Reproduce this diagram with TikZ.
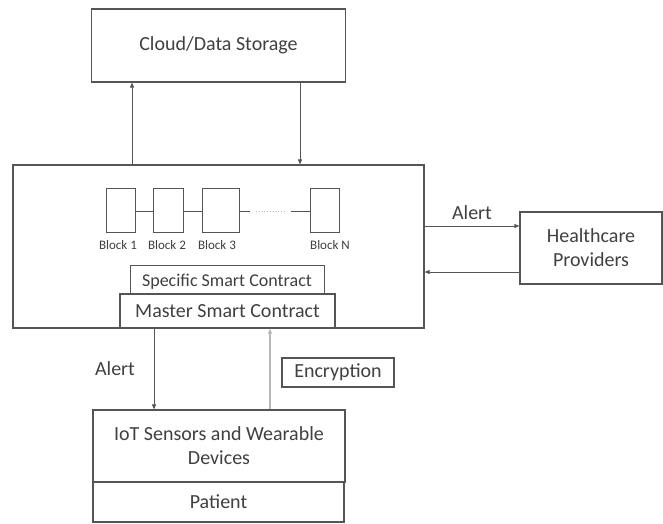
\documentclass[tikz,border=0pt]{standalone}
\usepackage{fontspec}
\setmainfont{Carlito}
\usetikzlibrary{arrows.meta}
\definecolor{edge}{HTML}{555555}
\definecolor{ink}{HTML}{404040}
\definecolor{pale}{HTML}{B8B8B8}

\begin{document}
\begin{tikzpicture}[x=1pt,y=-1pt,
  box/.style={draw=edge, line width=1.2pt, fill=white, inner sep=0pt,
    text=ink, font=\fontsize{20}{24}\selectfont, align=center},
  blk/.style={draw=edge, line width=1pt, fill=white, inner sep=0pt},
  blab/.style={text=ink, font=\fontsize{13}{15}\selectfont, inner sep=0pt},
  lab/.style={text=ink, font=\fontsize{20}{24}\selectfont, inner sep=0pt},
  arr/.style={draw=edge, line width=0.8pt, -{Triangle[length=5pt,width=4pt]}},
  lnk/.style={draw=edge, line width=0.8pt}]
\useasboundingbox (0,0) rectangle (663,523);

% storage on top
\node[box, minimum width=254pt, minimum height=73pt] (cloud) at (218.5,45.5) {Cloud/Data Storage};

% blockchain frame
\node[box, minimum width=411pt, minimum height=163pt] (main) at (218.5,246.5) {};

% chain of blocks
\node[blk, minimum width=29pt, minimum height=44pt] (b1) at (120.5,210) {};
\node[blk, minimum width=30pt, minimum height=44pt] (b2) at (168,210) {};
\node[blk, minimum width=37pt, minimum height=44pt] (b3) at (220.5,210) {};
\node[blk, minimum width=29pt, minimum height=44pt] (bn) at (324.5,210) {};
\node[blab] (l1) at (118,245) {Block 1};
\node[blab] (l2) at (167,245) {Block 2};
\node[blab] (l3) at (217,245) {Block 3};
\node[blab] (ln) at (330,245) {Block N};
\coordinate (g1) at (250,211);
\coordinate (g2) at (256,211);
\coordinate (g3) at (285,211);
\coordinate (g4) at (291,211);
\draw[lnk] (b1.east |- g1) -- (b2.west |- g1);
\draw[lnk] (b2.east |- g1) -- (b3.west |- g1);
\draw[lnk] (b3.east |- g1) -- (g1);
\draw[draw=pale, line width=0.8pt, dotted] (g2) -- (g3);
\draw[lnk] (g4) -- (bn.west |- g4);

% contracts
\node[box, minimum width=194pt, minimum height=32pt, anchor=north west] (spec) at (130,265) {};
\node[text=ink, font=\fontsize{18}{22}\selectfont, inner sep=0pt] (spect) at (227,282) {Specific Smart Contract};
\node[box, minimum width=215pt, minimum height=34pt] (master) at (227.5,311) {Master Smart Contract};

% providers
\node[box, minimum width=142pt, minimum height=72pt] (hc) at (591,248) {Healthcare\\Providers};
\coordinate (r1) at ([yshift=20.5pt]main.east);
\coordinate (r2) at ([yshift=-25.5pt]main.east);
\draw[arr] (r1) -- (r1 -| hc.west);
\draw[arr] (r2 -| hc.west) -- (r2);
\node[lab] (al1) at (472,213) {Alert};

% storage links
\coordinate (u1) at ([xshift=-86.5pt]main.north);
\coordinate (u2) at ([xshift=81.5pt]main.north);
\draw[arr] (u1) -- (u1 |- cloud.south);
\draw[arr] (u2 |- cloud.south) -- (u2);

% devices and patient
\node[box, minimum width=252pt, minimum height=72pt] (iot) at (219,446) {IoT Sensors and Wearable\\Devices};
\node[box, minimum width=251pt, minimum height=40pt] (pat) at (218.5,502) {Patient};
\node[box, minimum width=112pt, minimum height=29pt] (enc) at (338,372.5) {Encryption};

\coordinate (d1) at ([xshift=-64.5pt]main.south);
\coordinate (d2) at ([xshift=51.5pt]main.south);
\draw[arr] (d1) -- (d1 |- iot.north);
\draw[arr, draw=pale, line width=1.2pt] (d2 |- iot.north) -- (d2);
\node[lab] (al2) at (115,369) {Alert};
\end{tikzpicture}
\end{document}
